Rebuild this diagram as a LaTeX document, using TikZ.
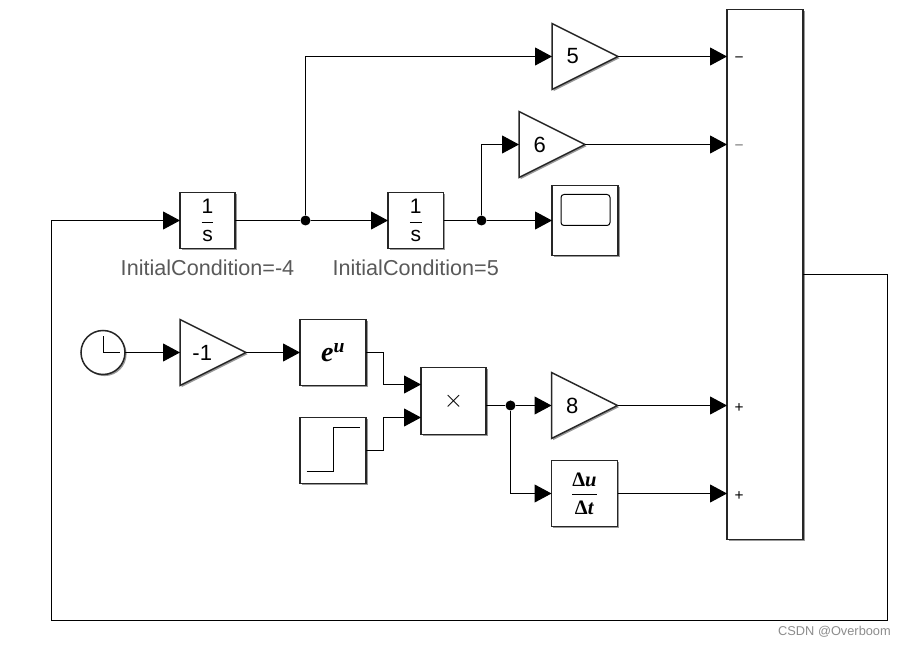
\documentclass[tikz,border=0pt]{standalone}
\usepackage{fontspec}
\usepackage{amsmath}
\setmainfont{Liberation Sans}
\newfontfamily\serifbf{Liberation Serif}
\usetikzlibrary{positioning,arrows.meta,shapes.geometric,shadows}
\tikzset{
  softshadow/.style={drop shadow={shadow xshift=1.6pt,shadow yshift=-1.6pt,opacity=.4,fill=black}},
  blk/.style={draw=black!85,fill=white,line width=1.5pt,inner sep=0pt,outer sep=0pt,softshadow,
    minimum width=66pt,minimum height=66pt,font=\fontsize{21}{23}\selectfont},
  gain/.style={isosceles triangle,isosceles triangle stretches,draw=black!85,fill=white,
    line width=1.5pt,inner sep=0pt,outer sep=0pt,softshadow,minimum width=66pt,minimum height=66pt,
    font=\fontsize{22}{24}\selectfont,execute at begin node=\hspace*{4pt}},
  dot/.style={circle,fill=black,inner sep=0pt,minimum size=10pt},
  wire/.style={line width=1pt,-{Triangle[length=17pt,width=18pt]}},
  line/.style={line width=1pt},
  icon/.style={line width=1pt},
  param/.style={font=\fontsize{21.6}{23}\selectfont,text=black!65},
  port/.style={font=\fontsize{15.4}{16}\selectfont,inner sep=0pt}
}
\newcommand{\intfrac}{$\dfrac{\mbox{1}}{\mbox{s}}$}
\begin{document}
\begin{tikzpicture}[x=1pt,y=1pt]
  \useasboundingbox (0,0) rectangle (906,646);
  % integrators
  \node[blk,minimum width=55pt,minimum height=56pt] (int1) at (207.5,425.5) {\intfrac};
  \node[dot] (j1) [right=70.5pt of int1.east,anchor=center] {};
  \node[blk,minimum width=55.5pt,minimum height=56pt] (int2) [right=82.5pt of j1.center] {\intfrac};
  \node[dot] (j2) [right=38pt of int2.east,anchor=center] {};
  \node[param] (ic1) [below=7.5pt of int1] {InitialCondition=-4};
  \node[param] (ic2) [below=7.5pt of int2] {InitialCondition=5};
  % upper gains and scope
  \node[gain] (gfive) [right=246.5pt of j1.center,yshift=164pt,anchor=lower side] {5};
  \node[gain] (gsix) [right=37.5pt of j2.center,yshift=76pt,anchor=lower side] {6};
  \node[blk,minimum height=70pt] (scope) [right=70.5pt of j2.center] {};
  \node[blk,minimum width=76pt,minimum height=530pt] (sumblk) [right=109pt of scope,yshift=-54pt] {};
  % lower chain
  \node[gain,anchor=lower side] (gneg) at (180,293.5) {-1};
  \node[circle,draw=black!85,fill=white,line width=1.5pt,minimum size=44pt,inner sep=0pt,outer sep=0pt,softshadow] (clock) [left=55pt of gneg.lower side] {};
  \node[blk] (expu) [right=54pt of gneg.apex] {{\serifbf\bfseries\itshape\fontsize{28}{28}\selectfont e\textsuperscript{u}}};
  \node[blk] (stepsrc) [below=32pt of expu] {};
  \node[blk,minimum width=65pt,minimum height=67pt] (prod) [right=55pt of expu,yshift=-48.5pt] {\fontsize{26}{26}\selectfont$\times$};
  \node[dot] (j3) [right=24.5pt of prod.east,yshift=-4.5pt,anchor=center] {};
  \node[gain] (geight) [right=41pt of j3.center,anchor=lower side] {8};
  \node[blk] (deriv) [right=41pt of j3.center,yshift=-88pt] {{\serifbf\bfseries\fontsize{20.5}{20.5}\selectfont$\dfrac{\mbox{Δ\textit{u}}}{\mbox{Δ\textit{t}}}$}};
  \coordinate[above=16.5pt of prod.west] (pin1);
  \coordinate[below=16.5pt of prod.west] (pin2);
  \coordinate[right=84pt of sumblk.east,yshift=-346pt] (fbr);
  \coordinate[left=128.5pt of int1.west] (fbl);
  % port signs
  \node[port] (pa) at ([xshift=12pt,yshift=-3pt]gfive.apex -| sumblk.west) {−};
  \node[port,text=black!55] (pb) at ([xshift=12pt,yshift=-3pt]gsix.apex -| sumblk.west) {−};
  \node[port] (pc) at ([xshift=12pt,yshift=-3pt]geight.apex -| sumblk.west) {+};
  \node[port] (pd) at ([xshift=12pt,yshift=-3pt]deriv.east -| sumblk.west) {+};
  % signals
  \draw[line] (int1.east) -- (j1);
  \draw[wire] (j1) |- (gfive.lower side);
  \draw[wire] (j1) -- (int2.west);
  \draw[line] (int2.east) -- (j2);
  \draw[wire] (j2) |- (gsix.lower side);
  \draw[wire] (j2) -- (scope.west);
  \draw[wire] (gfive.apex) -- (gfive.apex -| sumblk.west);
  \draw[wire] (gsix.apex) -- (gsix.apex -| sumblk.west);
  \draw[wire] (geight.apex) -- (geight.apex -| sumblk.west);
  \draw[wire] (deriv.east) -- (deriv.east -| sumblk.west);
  \draw[wire] (clock.east) -- (gneg.lower side);
  \draw[wire] (gneg.apex) -- (expu.west);
  \draw[wire] (expu.east) -- ++(17.5pt,0) |- (pin1);
  \draw[wire] (stepsrc.east) -- ++(17.5pt,0) |- (pin2);
  \draw[line] (j3 -| prod.east) -- (j3);
  \draw[wire] (j3) -- (geight.lower side);
  \draw[wire] (j3) |- (deriv.west);
  \draw[wire] (sumblk.east) -| (fbr) -| (fbl) -- (int1.west);
  % block icons
  \draw[icon] (clock.center) ++(0.5,16) -- ++(0,-16) -- ++(16,0);
  \draw[icon] (stepsrc.center) ++(-26.5,-21) -- ++(26.5,0) -- ++(0,44) -- ++(27,0);
  \draw[icon,rounded corners=3pt] (scope.center) ++(-24,26) rectangle ++(49,-31);
  \node[font=\fontsize{12.8}{14}\selectfont,text=black!45] (mark) at (834.5,14.5) {CSDN @Overboom};
\end{tikzpicture}
\end{document}
